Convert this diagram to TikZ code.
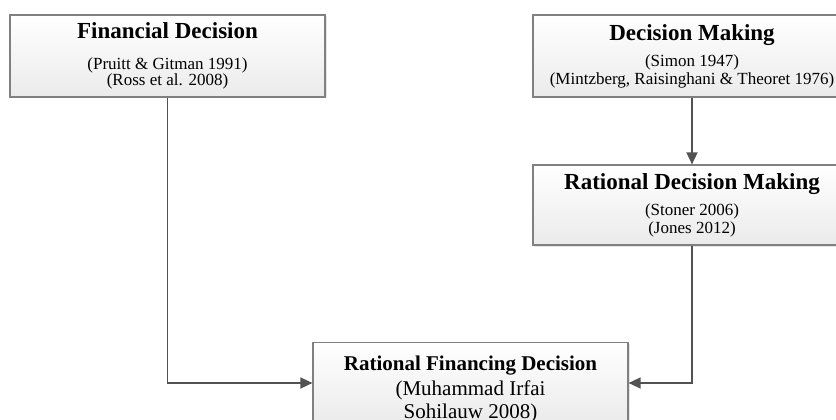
\documentclass[tikz,border=0pt]{standalone}
\usepackage{fontspec}
\setmainfont{Liberation Serif}
\usetikzlibrary{arrows.meta,shadows}

\newcommand\hdfont{\fontsize{23}{25}\selectfont\bfseries}
\newcommand\reffont{\fontsize{17}{14}\selectfont}
\newcommand\bodyfont{\fontsize{21}{25}\selectfont}

\begin{document}
\begin{tikzpicture}[x=1pt,y=-1pt,
    box/.style={draw=black!50,line width=1.2pt,top color=white,bottom color=black!8,
      align=center,inner sep=0pt,font=\reffont,
      drop shadow={opacity=0.2,shadow xshift=1.5pt,shadow yshift=-1.5pt}},
    link/.style={draw=black!68,line width=1.5pt,-{Triangle[length=12pt,width=11pt]}}]
        \useasboundingbox (0,0) rectangle (836,420);

        \node[box,minimum width=315pt,minimum height=82pt] (FD) at (167.5,56)
            {{\hdfont Financial Decision}\\[17pt] (Pruitt \& Gitman 1991)\\ (Ross et al. 2008)};
        \node[box,minimum width=318pt,minimum height=82pt] (DM) at (692,56)
            {{\hdfont Decision Making}\\[9pt] (Simon 1947)\\[1pt] (Mintzberg, Raisinghani \& Theoret 1976)};
        \node[box,minimum width=318pt,minimum height=80pt] (RDM) at (692,205)
            {{\hdfont Rational Decision Making}\\[9pt] (Stoner 2006)\\[1pt] (Jones 2012)};
        \node[box,minimum width=315pt,minimum height=80pt,font=\bodyfont] (RFD) at (470.5,383)
            {\rule{0pt}{28pt}{\bfseries Rational Financing Decision}\\ (Muhammad Irfai\\[-2pt] Sohilauw 2008)};

        \draw[link] (DM) -- (RDM);
        \draw[link] (FD) |- (RFD);
        \draw[link] (RDM) |- (RFD);
      \end{tikzpicture}
\end{document}
